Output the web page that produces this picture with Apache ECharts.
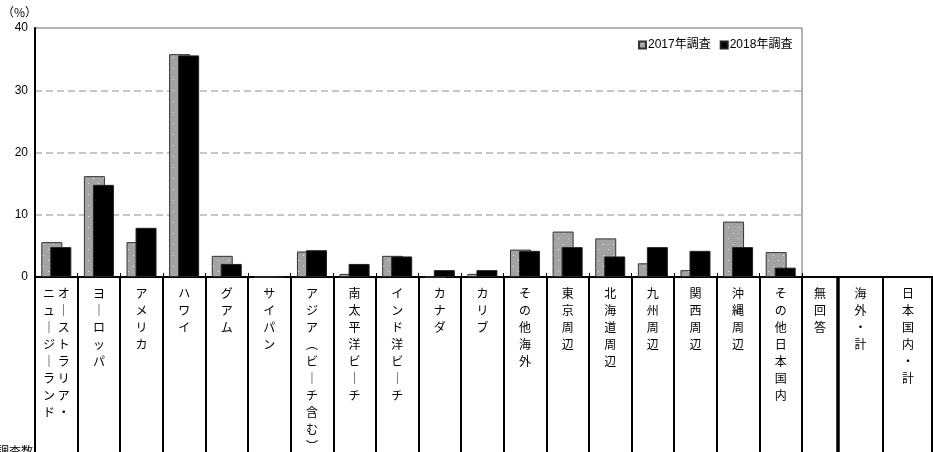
<!DOCTYPE html>
<html><head><meta charset="utf-8">
<script src="https://cdn.jsdelivr.net/npm/echarts@6/dist/echarts.min.js"></script>
<style>html,body{margin:0;padding:0;background:#fff}#c{width:933px;height:452px}</style>
</head><body><div id="c"></div>
<script>
// ---- data ----
const categories = ['オーストラリア・ニュージーランド','ヨーロッパ','アメリカ','ハワイ','グアム','サイパン','アジア（ビーチ含む）','南太平洋ビーチ','インド洋ビーチ','カナダ','カリブ','その他海外','東京周辺','北海道周辺','九州周辺','関西周辺','沖縄周辺','その他日本国内'];
const v2017 = [5.6,16.2,5.6,35.8,3.4,0,4.1,0.5,3.4,0,0.5,4.4,7.3,6.2,2.2,1.1,8.9,4.0];
const v2018 = [4.8,14.8,7.9,35.6,2.1,0,4.3,2.1,3.3,1.1,1.1,4.2,4.8,3.3,4.8,4.2,4.8,1.5];
const seriesNames = ['2017年調査','2018年調査'];
const yTicks = [0,10,20,30,40];
const extraColumns = ['無回答','海外・計','日本国内・計'];
const extraSpans = [[0,36],[36,81],[81,131]];
const footLabel = '調査数';

const JP = '"Noto Sans CJK JP"';
const NUM = '"Liberation Sans","Noto Sans CJK JP"';

function vchar(c){ return c==='ー'?'｜':c==='（'?'︵':c==='）'?'︶':c; }
function vert(name){
  if(name.indexOf('・')>0 && name.indexOf('・')<name.length-1 && name.length>10){
    const k = name.indexOf('・')+1;
    const right = name.slice(0,k).split(''), left = name.slice(k).split('');
    const n = Math.max(left.length,right.length), out=[];
    for(let i=0;i<n;i++) out.push(vchar(left[i]||'　')+' '+vchar(right[i]||'　'));
    return out.join('\n');
  }
  return name.split('').map(vchar).join('\n');
}

// dotted gray pattern
const pc = document.createElement('canvas'); pc.width=10; pc.height=11;
const g = pc.getContext('2d'); g.fillStyle='#a3a3a3'; g.fillRect(0,0,10,11);
g.fillStyle='#e6e6e6'; g.fillRect(3,2,1,1); g.fillRect(8,7,1,1);

const chart = echarts.init(document.getElementById('c'), null, {renderer:'canvas'});
chart.setOption({
  animation:false,
  backgroundColor:'#fff',
  grid:[
    {left:35, top:28, width:767, height:249, show:true, borderColor:'#666', borderWidth:1, backgroundColor:'transparent', containLabel:false, outerBoundsMode:'none'},
    {left:802, top:28, width:131, height:249, show:false, containLabel:false, outerBoundsMode:'none'}
  ],
  legend:{
    data:seriesNames, left:638, top:39, padding:0, itemWidth:7, itemHeight:7, itemGap:9, icon:'rect',
    textStyle:{fontSize:12, fontFamily:NUM, color:'#000', padding:[0,0,0,-3]}
  },
  xAxis:[
    {type:'category', gridIndex:0, data:categories, boundaryGap:true,
     axisLine:{show:true, lineStyle:{color:'#000', width:2}},
     axisTick:{show:true, interval:0, length:175, lineStyle:{color:'#000', width:2}},
     axisLabel:{interval:0, margin:8, formatter:vert, fontFamily:JP, fontSize:12, lineHeight:17, color:'#000', verticalAlign:'top', hideOverlap:false},
     splitLine:{show:false}},
    {type:'category', gridIndex:0, data:categories, position:'bottom', boundaryGap:true,
     axisLine:{show:false}, axisLabel:{show:false}, splitLine:{show:false},
     axisTick:{show:true, inside:true, interval:0, length:4, lineStyle:{color:'#000', width:1}}},
    {type:'value', gridIndex:1, min:0, max:131,
     axisLine:{show:true, lineStyle:{color:'#000', width:2}}, axisTick:{show:false}, axisLabel:{show:false}, splitLine:{show:false}}
  ],
  yAxis:[
    {type:'value', gridIndex:0, min:0, max:40, interval:10,
     name:'（%）', nameLocation:'end', nameGap:10,
     nameTextStyle:{align:'right', fontFamily:JP, fontSize:12, color:'#000', padding:[0,-2,0,0]},
     axisLine:{show:true, lineStyle:{color:'#000', width:2}}, axisTick:{show:false},
     axisLabel:{margin:7, fontFamily:NUM, fontSize:12, color:'#000', formatter:v=>yTicks.indexOf(v)>=0?String(v):''},
     splitLine:{show:true, lineStyle:{color:'#b4b4b4', width:1.5, type:[7,4]}}},
    {type:'value', gridIndex:1, min:0, max:40, show:false}
  ],
  series:[
    {name:seriesNames[0], type:'bar', xAxisIndex:0, yAxisIndex:0, data:v2017, barWidth:21, barGap:'-57%',
     itemStyle:{color:{image:pc, repeat:'repeat'}, borderColor:'#333', borderWidth:1}},
    {name:seriesNames[1], type:'bar', xAxisIndex:0, yAxisIndex:0, data:v2018, barWidth:21, barGap:'-57%',
     itemStyle:{color:'#000', borderColor:'#222', borderWidth:1}},
    {type:'custom', xAxisIndex:2, yAxisIndex:1, clip:false, silent:true,
     data:extraSpans,
     renderItem:function(params, api){
       const i = params.dataIndex;
       const p0 = api.coord([api.value(0),0]), p1 = api.coord([api.value(1),0]);
       const lw = i===0?3.5:2;
       const xl = i===extraSpans.length-1 ? p1[0]-1 : p1[0];
       return {type:'group', children:[
         {type:'line', shape:{x1:xl, y1:p1[1], x2:xl, y2:p1[1]+175}, style:{stroke:'#000', lineWidth:lw}},
         {type:'text', style:{text:vert(extraColumns[i]), x:(p0[0]+p1[0])/2, y:p0[1]+8, align:'center', verticalAlign:'top',
           fontFamily:'Noto Sans CJK JP', fontSize:12, lineHeight:17, fill:'#000'}}
       ]};
     }}
  ],
  graphic:[
    {type:'text', x:33, y:445, style:{text:footLabel, align:'right', verticalAlign:'top', fontFamily:'Noto Sans CJK JP', fontSize:12, fill:'#000'}}
  ]
});
</script></body></html>
